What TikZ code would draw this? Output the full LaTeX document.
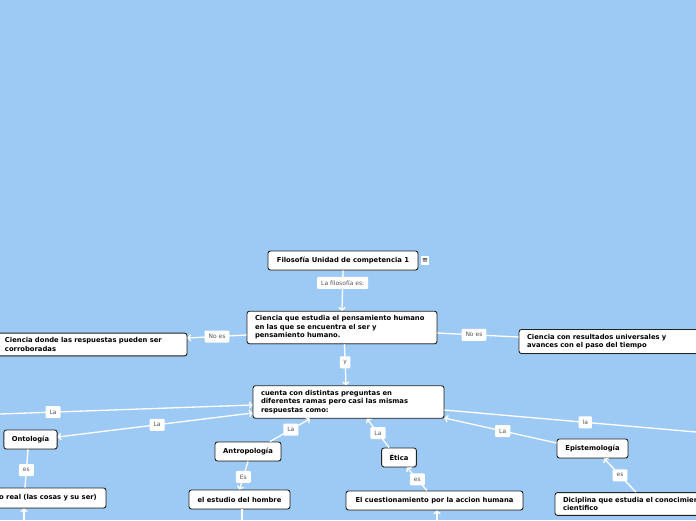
\documentclass[tikz,border=0pt]{standalone}
\usepackage{fontspec}
\setmainfont{DejaVu Sans}
\usetikzlibrary{arrows.meta,shadows}
\definecolor{bg}{RGB}{157,201,245}
\definecolor{boxline}{RGB}{34,34,34}
\definecolor{labtext}{RGB}{85,85,85}
\begin{document}
\begin{tikzpicture}[x=1pt,y=-1pt,
  box/.style={draw=boxline,fill=white,rounded corners=2.5pt,line width=0.9pt,
    font=\bfseries\fontsize{6.8}{8.5}\selectfont,inner xsep=8pt,inner ysep=4.5pt,
    minimum height=19pt,
    drop shadow={shadow xshift=0.6pt,shadow yshift=-0.8pt,opacity=0.35}},
  wide/.style={box,text width=#1,align=left},
  lab/.style={fill=white,rounded corners=1pt,text=labtext,
    font=\fontsize{6}{7}\selectfont,inner xsep=4pt,inner ysep=3pt,minimum height=12pt},
  link/.style={draw=white,line width=1.3pt},
  arr/.style={link,-{Straight Barb[length=2.5pt,width=6.5pt]}},
  arrboth/.style={link,{Straight Barb[length=2.5pt,width=6.5pt]}-{Straight Barb[length=2.5pt,width=6.5pt]}},
]
\useasboundingbox (0,0) rectangle (696,520);
\clip (0,0) rectangle (696,520);
\fill[bg] (0,0) rectangle (696,520);

% nodes
\node[box,minimum width=150pt] (root) at (343,260.5) {Filosofía Unidad de competencia 1};
\node[fill=white,inner sep=0.5pt,minimum width=8pt,minimum height=9pt,
  font=\fontsize{7}{7}\selectfont] (menu) at (425,260.5) {≡};

\node[wide=174pt] (ciencia) at (342,327.5)
  {Ciencia que estudia el pensamiento humano\\en las que se encuentra el ser y\\pensamiento humano.};
\node[wide=174pt] (izq) at (92,344.5)
  {Ciencia donde las respuestas pueden ser\\corroboradas};
\node[wide=174pt] (der) at (614,341.5)
  {Ciencia con resultados universales y\\avances con el paso del tiempo};
\node[wide=175pt] (cuenta) at (348.5,402)
  {cuenta con distintas preguntas en\\diferentes ramas pero casi las mismas\\respuestas como:};

\node[box,minimum width=53pt] (onto) at (30.5,439.5) {Ontología};
\node[box,minimum width=116pt,minimum height=20pt] (real) at (48,498) {o real (las cosas y su ser)};
\node[box,minimum width=66pt] (antro) at (248,451.5) {Antropología};
\node[box,minimum width=101pt] (estudio) at (239.5,499.5) {el estudio del hombre};
\node[box,minimum width=34pt] (etica) at (399,457.5) {Ética};
\node[box,minimum width=177pt] (cuest) at (434.5,500.5) {El cuestionamiento por la accion humana};
\node[box,minimum width=71pt] (epi) at (592.5,448.5) {Epistemología};
\node[wide=174pt] (dic) at (650,504)
  {Diciplina que estudia el conocimiento\\cientifico};

% free ends
\coordinate (offL) at (0,414);
\coordinate (offR) at (696,432);
\coordinate (offE) at (242,521);
\coordinate (offC) at (437,521);
\coordinate (offReal) at (24,521);

% connectors
\draw[arr] (root.south) -- node[lab,pos=0.31] {La filosofía es:} (ciencia.north);
\draw[arr] ([yshift=-7.5pt]ciencia.west) -- node[lab,pos=0.5] {No es} ([yshift=6.5pt]izq.east);
\draw[link] ([yshift=-5.5pt]ciencia.east) -- node[lab,pos=0.45] {No es} ([yshift=4.5pt]der.west);
\draw[arr] ([xshift=2.5pt]ciencia.south) -- node[lab,pos=0.44,inner xsep=3.5pt] {y} ([xshift=-2.5pt]cuenta.north);

\draw[arr] (offL) -- node[lab,pos=0.21] {La} ([yshift=-3pt]cuenta.west);
\draw[arrboth] ([yshift=-11pt]cuenta.west) -- node[lab,pos=0.49] {La} ([yshift=2.5pt]onto.east);
\draw[link] ([xshift=-2.5pt]onto.south) -- node[lab,pos=0.54] {es} ([xshift=-23pt]real.north);
\draw[arr] (offReal) -- ([xshift=-24pt]real.south);

\draw[arr] ([xshift=22pt]antro.north) -- node[lab,pos=0.52] {La} ([xshift=-38.5pt]cuenta.south);
\draw[arr] (antro.south) -- node[lab,pos=0.55] {Es} (estudio.north);
\draw[link] ([xshift=2.5pt]estudio.south) -- (offE);

\draw[arr] ([xshift=-10pt]etica.north) -- node[lab,pos=0.5] {La} ([xshift=18.5pt]cuenta.south);
\draw[arr] ([xshift=-7.5pt]cuest.north) -- node[lab,pos=0.48] {es} ([xshift=8pt]etica.south);
\draw[arr] (offC) -- ([xshift=2.5pt]cuest.south);

\draw[arr] ([yshift=5.5pt]epi.west) -- node[lab,pos=0.48] {La} ([yshift=-16pt]cuenta.east);
\draw[link] ([yshift=-8pt]cuenta.east) -- node[lab,pos=0.56] {la} (offR);
\draw[arr] ([xshift=-14pt]dic.north) -- node[lab,pos=0.5] {es} ([xshift=11.5pt]epi.south);
\end{tikzpicture}
\end{document}
